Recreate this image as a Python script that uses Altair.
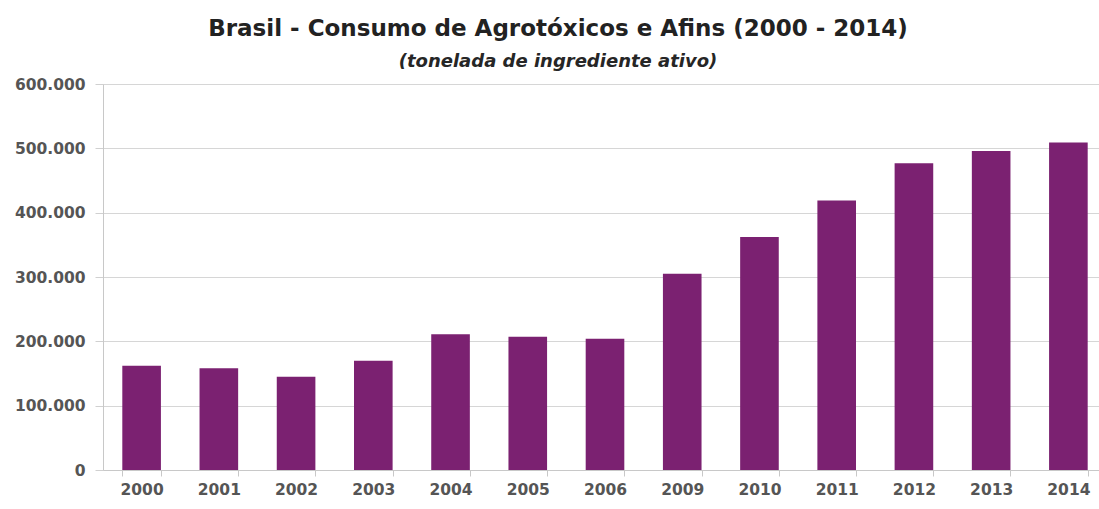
import altair as alt
import pandas as pd

anos = ["2000", "2001", "2002", "2003", "2004", "2005", "2006",
        "2009", "2010", "2011", "2012", "2013", "2014"]
consumo = [162000, 158000, 145000, 170000, 211000, 207000, 204000,
           305000, 362000, 419000, 477000, 496000, 509000]

df = pd.DataFrame({"ano": anos, "consumo": consumo})

FONT = "DejaVu Sans"

chart = alt.Chart(df).mark_bar(color="#7B2171").encode(
    x=alt.X("ano:N", sort=anos,
            scale=alt.Scale(paddingInner=0.5, paddingOuter=0.25, range=[0, 1004]),
            axis=alt.Axis(title=None, labelAngle=0, tickBand="extent",
                          labelFont=FONT, labelFontSize=15.5, labelFontWeight="bold",
                          labelColor="#555555", tickSize=6, tickColor="#c8c8c8",
                          domainColor="#c8c8c8", labelPadding=6)),
    y=alt.Y("consumo:Q",
            scale=alt.Scale(domain=[0, 600000], nice=False),
            axis=alt.Axis(title=None, values=[0, 100000, 200000, 300000, 400000, 500000, 600000],
                          labelExpr="replace(format(datum.value, ','), ',', '.')",
                          labelFont=FONT, labelFontSize=15.5, labelFontWeight="bold",
                          labelColor="#555555", tickSize=8, tickColor="#d0d0d0",
                          domainColor="#c8c8c8", gridColor="#d6d6d6",
                          labelPadding=10)),
).properties(
    width=996,
    height=386,
    padding={"left": 103, "top": 84, "right": 0, "bottom": 39},
    autosize=alt.AutoSizeParams(type="none"),
    title=alt.TitleParams(
        text="Brasil - Consumo de Agrotóxicos e Afins (2000 - 2014)",
        subtitle="(tonelada de ingrediente ativo)",
        font=FONT, fontSize=23, fontWeight="bold", color="#222222",
        subtitleFont=FONT, subtitleFontSize=18, subtitleFontStyle="italic",
        subtitleFontWeight="bold", subtitleColor="#262626",
        anchor="middle", frame="group", dx=-43, offset=6, subtitlePadding=12,
    ),
).configure_view(stroke=None).configure(background="white")

chart.save("out.html", embed_options={"renderer": "svg", "actions": False})
